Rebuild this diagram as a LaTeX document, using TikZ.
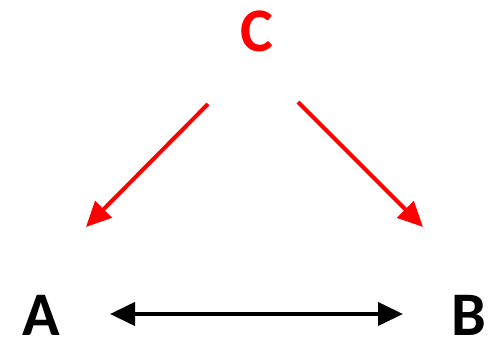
\documentclass[tikz,border=0pt]{standalone}
\usepackage{fontspec}
\setmainfont{Carlito}
\usetikzlibrary{arrows.meta}
\definecolor{cred}{RGB}{255,0,0}
\tikzset{
  lbl/.style={font=\fontsize{62}{62}\selectfont\bfseries, inner sep=0pt, anchor=base},
  conn/.style={line width=4pt, -{Triangle[length=25pt,width=23pt]}},
}
\begin{document}
\begin{tikzpicture}[x=1pt,y=-1pt]
\useasboundingbox (0,0) rectangle (493,339);
\node[lbl, text=cred] (C) at (257,52) {C};
\node[lbl] (A) at (41,335) {A};
\node[lbl] (B) at (469,335) {B};
\coordinate (c1) at (208,104);
\coordinate (a1) at (86,227);
\coordinate (c2) at (298,102);
\coordinate (b1) at (423,227);
\coordinate (al) at (110,314);
\coordinate (br) at (403,314);
\draw[conn, cred] (c1) -- (a1);
\draw[conn, cred] (c2) -- (b1);
\draw[line width=4pt, {Triangle[length=25pt,width=23pt]}-{Triangle[length=25pt,width=23pt]}] (al) -- (br);
\end{tikzpicture}
\end{document}
